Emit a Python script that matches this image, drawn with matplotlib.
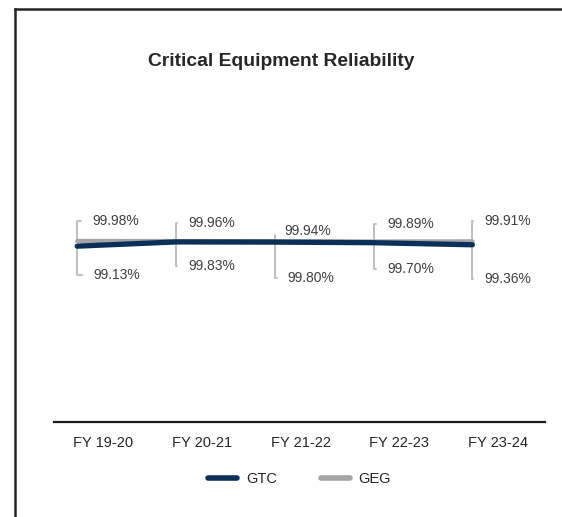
import numpy as np
import matplotlib
matplotlib.use('Agg')
import matplotlib.pyplot as plt
from matplotlib.lines import Line2D

years = ['FY 19-20', 'FY 20-21', 'FY 21-22', 'FY 22-23', 'FY 23-24']
gtc = [99.13, 99.83, 99.80, 99.70, 99.36]
geg = [99.98, 99.96, 99.94, 99.89, 99.91]

# label offsets in pixels (left edge of text, vertical centre) from each point
geg_dx = [15, 12, 10, 14, 12]
geg_dy = [20, 18.5, 10.5, 18, 20]
gtc_dx = [16, 12, 13, 14, 12]
gtc_dy = [-29, -24, -35.5, -26, -34]

plt.rcParams['font.family'] = ['Liberation Sans', 'DejaVu Sans']

W, H = 562, 517
fig = plt.figure(figsize=(W / 100, H / 100), dpi=100)
ax = fig.add_axes([54 / W, 1 - 422 / H, (545 - 54) / W, (422 - 90) / H])

navy = '#0B2F57'
grey = '#A5A5A5'
lead = '#BFBFBF'

x = np.arange(len(years))
ax.plot(x, geg, color=grey, lw=3.2, solid_capstyle='round', label='GEG', zorder=2)
ax.plot(x, gtc, color=navy, lw=3.8, solid_capstyle='round', label='GTC', zorder=3)

for vals, dxs, dys in [(geg, geg_dx, geg_dy), (gtc, gtc_dx, gtc_dy)]:
    for i, v in enumerate(vals):
        ax.annotate(f'{v:.2f}%', xy=(x[i], v), xytext=(dxs[i], dys[i]),
                    textcoords='offset pixels', ha='left', va='center',
                    fontsize=10, color='#404040',
                    arrowprops=dict(arrowstyle='-', color=lead, lw=1.4,
                                    connectionstyle='angle,angleA=0,angleB=90,rad=0',
                                    relpos=(0, 0.5), shrinkA=6, shrinkB=0),
                    zorder=1)

ax.set_ylim(70, 125)
ax.set_xlim(-0.235, 4.735)
ax.set_xticks(x + 0.262)
ax.set_xticklabels(years, fontsize=10.5, color='#262626')
ax.tick_params(axis='x', length=0, pad=10)
ax.set_yticks([])
for s in ['left', 'right', 'top']:
    ax.spines[s].set_visible(False)
ax.spines['bottom'].set_linewidth(1.6)
ax.spines['bottom'].set_color('#1a1a1a')

fig.text(281.5 / W, 1 - 62 / H, 'Critical Equipment Reliability', ha='center', va='center',
         fontsize=13.9, fontweight='bold', color='#262626')

handles = [Line2D([], [], color=navy, lw=4, solid_capstyle='round'),
           Line2D([], [], color=grey, lw=4, solid_capstyle='round')]
fig.legend(handles, ['GTC', 'GEG'], loc='center', bbox_to_anchor=(299.5 / W, 1 - 479 / H),
           ncol=2, frameon=False, fontsize=10.5, handlelength=2.0, handletextpad=0.6,
           columnspacing=3.0, labelcolor='#262626')

# outer frame (left and top edges visible)
fig.add_artist(Line2D([14.5 / W, 14.5 / W], [0, 1 - 9 / H], color='#262626', lw=1.8))
fig.add_artist(Line2D([14.5 / W, 1], [1 - 9 / H, 1 - 9 / H], color='#262626', lw=1.8))

fig.savefig('out.png', dpi=100)
